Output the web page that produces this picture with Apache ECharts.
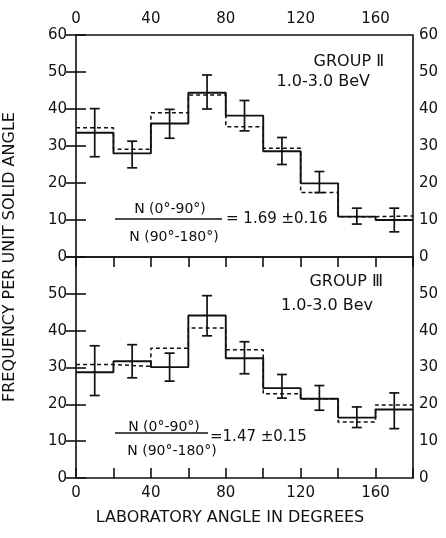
<!DOCTYPE html>
<html>
<head>
<meta charset="utf-8">
<script src="https://cdn.jsdelivr.net/npm/echarts@6/dist/echarts.min.js"></script>
<style>
  html, body { margin: 0; padding: 0; background: #fff; }
  #main { width: 446px; height: 538px; }
</style>
</head>
<body>
<div id="main"></div>
<script>
// bin edges in degrees (left edge of each 20 deg bin) and bin centres
const binStart = [0, 20, 40, 60, 80, 100, 120, 140, 160];
const binMid = [10, 30, 50, 70, 90, 110, 130, 150, 170];
const xTickLabels = ['0', '40', '80', '120', '160'];

// Group II, 1.0-3.0 BeV
const g2Solid = [33.6, 28.0, 36.1, 44.4, 38.2, 28.6, 19.9, 10.9, 10.0];
const g2Dashed = [34.9, 29.1, 39.0, 43.8, 35.2, 29.4, 17.4, 10.9, 11.1];
const g2ErrLow = [27.1, 24.1, 32.1, 40.0, 34.1, 25.0, 17.4, 8.9, 6.8];
const g2ErrHigh = [40.1, 31.3, 39.9, 49.2, 42.3, 32.3, 23.1, 13.2, 13.2];

// Group III, 1.0-3.0 Bev
const g3Solid = [28.7, 31.7, 30.1, 44.1, 32.5, 24.4, 21.5, 16.4, 18.6];
const g3Dashed = [30.8, 30.3, 35.2, 40.7, 34.8, 22.9, 21.5, 15.2, 19.8];
const g3ErrLow = [22.4, 27.2, 26.3, 38.6, 28.3, 21.7, 18.4, 13.7, 13.4];
const g3ErrHigh = [35.9, 36.2, 33.9, 49.5, 37.0, 28.1, 25.1, 19.3, 23.1];

const ink = '#111';
const font = 'DejaVu Sans';

// step points: one per bin start plus closing point at 180
function stepData(vals) {
  const d = binStart.map((x, i) => [x, vals[i]]);
  d.push([180, vals[vals.length - 1]]);
  return d;
}
function errData(lo, hi) {
  return binMid.map((x, i) => [x, lo[i], hi[i]]);
}

function renderErr(params, api) {
  const x = api.value(0);
  const top = api.coord([x, api.value(2)]);
  const bot = api.coord([x, api.value(1)]);
  const w = 5;
  const st = { stroke: ink, lineWidth: 1.7 };
  return {
    type: 'group',
    children: [
      { type: 'line', shape: { x1: top[0], y1: top[1], x2: bot[0], y2: bot[1] }, style: st },
      { type: 'line', shape: { x1: top[0] - w, y1: top[1], x2: top[0] + w, y2: top[1] }, style: st },
      { type: 'line', shape: { x1: bot[0] - w, y1: bot[1], x2: bot[0] + w, y2: bot[1] }, style: st }
    ]
  };
}

function xAxisFor(grid, pos, showLabels) {
  return {
    type: 'value', gridIndex: grid, position: pos, min: 0, max: 180, interval: 20,
    axisLine: { show: false },
    axisTick: { show: showLabels, inside: true, length: 10, lineStyle: { color: ink, width: 1.6 } },
    splitLine: { show: false },
    axisLabel: {
      show: showLabels, color: ink, fontFamily: font, fontSize: 15, margin: 8,
      formatter: v => (xTickLabels.indexOf(String(v)) >= 0 ? String(v) : '')
    }
  };
}
function yAxisFor(grid, pos, hideTop) {
  return {
    type: 'value', gridIndex: grid, position: pos, min: 0, max: 60, interval: 10,
    axisLine: { show: false },
    axisTick: { inside: true, length: 10, lineStyle: { color: ink, width: 1.6 } },
    splitLine: { show: false },
    axisLabel: {
      color: ink, fontFamily: font, fontSize: 15, margin: pos === 'left' ? 9 : 6,
      formatter: v => (hideTop && v === 60 ? '' : String(v))
    }
  };
}

const series = [];
function addPanel(idx, solid, dashed, lo, hi) {
  series.push({
    type: 'line', xAxisIndex: idx * 2, yAxisIndex: idx * 2, step: 'end', symbol: 'none',
    data: stepData(dashed), lineStyle: { color: ink, width: 1.5, type: [4, 3] }, z: 2
  });
  series.push({
    type: 'line', xAxisIndex: idx * 2, yAxisIndex: idx * 2, step: 'end', symbol: 'none',
    data: stepData(solid), lineStyle: { color: ink, width: 1.9 }, z: 3
  });
  series.push({
    type: 'custom', xAxisIndex: idx * 2, yAxisIndex: idx * 2,
    renderItem: renderErr, data: errData(lo, hi), z: 4
  });
}
addPanel(0, g2Solid, g2Dashed, g2ErrLow, g2ErrHigh);
addPanel(1, g3Solid, g3Dashed, g3ErrLow, g3ErrHigh);

function txt(x, y, s, size, align, vAlign) {
  return {
    type: 'text', x: x, y: y,
    style: { text: s, fill: ink, font: size + 'px "' + font + '"', align: align || 'left', verticalAlign: vAlign || 'middle' }
  };
}
function rule(x1, x2, y) {
  return { type: 'line', shape: { x1: x1, y1: y, x2: x2, y2: y }, style: { stroke: ink, lineWidth: 1.6 } };
}

const chart = echarts.init(document.getElementById('main'));
chart.setOption({
  backgroundColor: '#fff',
  animation: false,
  grid: [
    { left: 76, right: 33, top: 35, height: 222, show: true, borderColor: ink, borderWidth: 1.6, backgroundColor: 'transparent' },
    { left: 76, right: 33, top: 257, height: 221, show: true, borderColor: ink, borderWidth: 1.6, backgroundColor: 'transparent' }
  ],
  xAxis: [
    xAxisFor(0, 'top', true),
    xAxisFor(0, 'bottom', false),
    xAxisFor(1, 'bottom', true),
    xAxisFor(1, 'top', false)
  ],
  yAxis: [
    yAxisFor(0, 'left', false),
    yAxisFor(0, 'right', false),
    yAxisFor(1, 'left', true),
    yAxisFor(1, 'right', true)
  ],
  series: series,
  graphic: [
    txt(384, 62, 'GROUP Ⅱ', 16, 'right'),
    txt(370, 82, '1.0-3.0 BeV', 16, 'right'),
    txt(170, 209, 'N (0°-90°)', 14, 'center'),
    rule(115, 222, 219),
    txt(174, 237, 'N (90°-180°)', 14, 'center'),
    txt(226, 219, '= 1.69 ±0.16', 15),
    txt(383, 282, 'GROUP Ⅲ', 16, 'right'),
    txt(373, 306, '1.0-3.0 Bev', 16, 'right'),
    txt(164, 427, 'N (0°-90°)', 14, 'center'),
    rule(115, 208, 433),
    txt(172, 451, 'N (90°-180°)', 14, 'center'),
    txt(210, 437, '=1.47 ±0.15', 15),
    txt(230, 518, 'LABORATORY ANGLE IN DEGREES', 16, 'center'),
    {
      type: 'text', x: 10, y: 257, rotation: Math.PI / 2,
      style: { text: 'FREQUENCY PER UNIT SOLID ANGLE', fill: ink, font: '16px "' + font + '"', align: 'center', verticalAlign: 'middle' }
    }
  ]
});
</script>
</body>
</html>
